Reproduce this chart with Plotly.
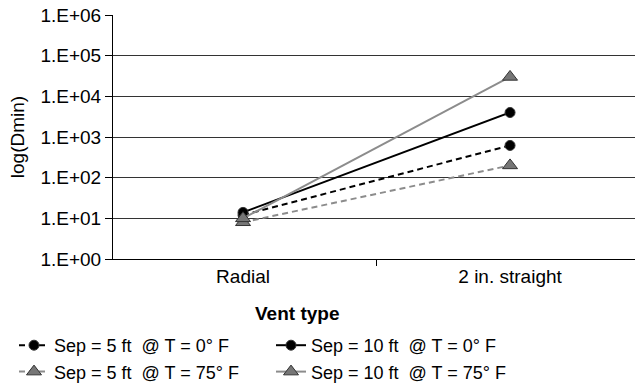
import plotly.graph_objects as go

# Vent configurations (category axis) and minimum distance results
vent_types = ["Radial", "2 in. straight"]
sep5_t0 = [12, 620]
sep10_t0 = [14, 4000]
sep5_t75 = [8, 200]
sep10_t75 = [10, 30000]

y_tickvals = [1, 10, 100, 1000, 10000, 100000, 1000000]
y_ticktext = ["1.E+00", "1.E+01", "1.E+02", "1.E+03", "1.E+04", "1.E+05", "1.E+06"]

FONT = "Liberation Sans, Arial, sans-serif"
FS = 19
LEG_FS = 18
GRAY_LINE = "#8c8c8c"
GRAY_FILL = "#767676"

x_idx = list(range(len(vent_types)))

series = [
    ("Sep = 5 ft  @ T = 0° F", sep5_t0, "black", "dash", 2, "circle", "black", 10),
    ("Sep = 10 ft  @ T = 0° F", sep10_t0, "black", "solid", 2, "circle", "black", 10),
    ("Sep = 5 ft  @ T = 75° F", sep5_t75, GRAY_LINE, "dash", 2, "triangle-up", GRAY_FILL, 13),
    ("Sep = 10 ft  @ T = 75° F", sep10_t75, GRAY_LINE, "solid", 2, "triangle-up", GRAY_FILL, 13),
]

fig = go.Figure()
for name, vals, lcolor, dash, width, symbol, mcolor, msize in series:
    fig.add_trace(go.Scatter(
        x=x_idx, y=vals, name=name, mode="lines+markers",
        line=dict(color=lcolor, dash="6px,4px" if dash == "dash" else "solid", width=width),
        marker=dict(symbol=symbol, size=msize, color=mcolor,
                    line=dict(color="#333333", width=1)),
    ))

fig.update_layout(
    width=635, height=385,
    margin=dict(l=113, r=0, t=15, b=126),
    paper_bgcolor="white", plot_bgcolor="white",
    font=dict(family=FONT, size=FS, color="black"),
    showlegend=True,
    legend=dict(
        orientation="h", xref="container", yref="container",
        x=14 / 635, xanchor="left", y=1 - 327 / 385, yanchor="top",
        entrywidth=212, entrywidthmode="pixels",
        font=dict(family=FONT, size=LEG_FS, color="black"),
        itemwidth=30, tracegroupgap=0, traceorder="normal",
        bgcolor="rgba(0,0,0,0)",
    ),
    xaxis=dict(
        range=[-0.487, 1.468],
        tickmode="array", tickvals=x_idx, ticktext=vent_types,
        ticks="", showgrid=False, zeroline=False,
        showline=True, linecolor="black", linewidth=1,
        tickfont=dict(family=FONT, size=FS),
        minor=dict(tickmode="array", tickvals=[0.5], ticks="outside",
                   ticklen=6, tickcolor="black", showgrid=False),
    ),
    yaxis=dict(
        type="log", range=[0, 6],
        tickmode="array", tickvals=y_tickvals, ticktext=y_ticktext,
        ticks="outside", ticklen=7, tickcolor="black",
        showgrid=True, gridcolor="#333333", gridwidth=1,
        showline=True, linecolor="black", linewidth=1, zeroline=False,
        tickfont=dict(family=FONT, size=FS),
        title=dict(text="log(Dmin)", font=dict(family=FONT, size=FS), standoff=10),
    ),
    annotations=[
        dict(text="<b>Vent type</b>", xref="paper", yref="paper",
             x=(297 - 113) / 522, y=-(313 - 259) / 244,
             xanchor="center", yanchor="middle", showarrow=False,
             font=dict(family=FONT, size=FS)),
    ],
)

fig.write_html("out.html")
